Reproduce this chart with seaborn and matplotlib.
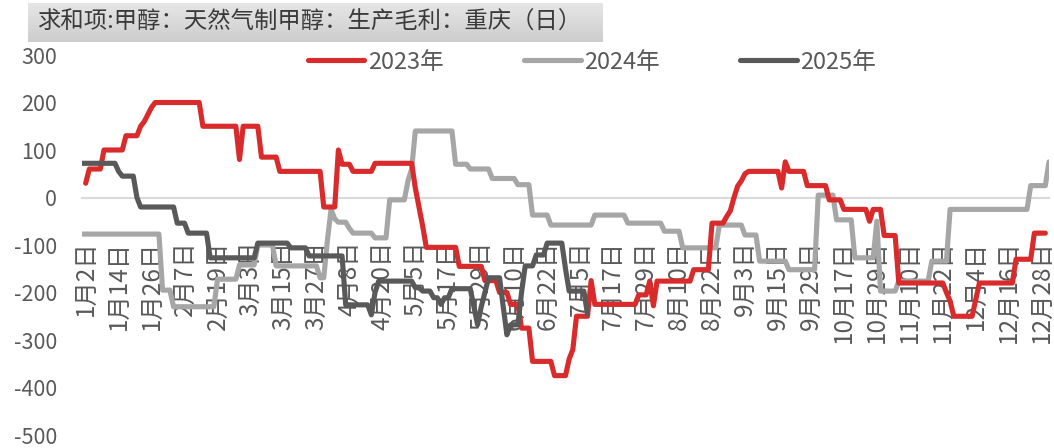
import numpy as np
import pandas as pd
import matplotlib
matplotlib.use("Agg")
import matplotlib.pyplot as plt
import seaborn as sns

# ---- data -------------------------------------------------------------
# category axis: one point per trading day, a date label every 9 points
n_points = 265
tick_step = 9
date_labels = ["1月2日", "1月14日", "1月26日", "2月7日", "2月19日", "3月3日",
               "3月15日", "3月27日", "4月8日", "4月20日", "5月5日", "5月17日",
               "5月29日", "6月10日", "6月22日", "7月5日", "7月17日", "7月29日",
               "8月10日", "8月22日", "9月3日", "9月15日", "9月29日", "10月17日",
               "10月29日", "11月10日", "11月22日", "12月4日", "12月16日", "12月28日"]

nan = np.nan
# daily gross margin (元/吨), stored as level + number of days at that level
vals_2023 = [nan, 30, 60, 100, 130, 150, 160, 175, 190, 200, 150, 80, 150, 85, 55,
             -20, 100, 70, 55, 72, 20, -20, -60, -105, -145, -175, -200, -225,
             -275, -345, -375, -340, -320, -250, -175, -225, -205, -176, -228,
             -176, -152, -54, -40, -28, 0, 24, 35, 50, 55, 20, 75, 55, 25, -5,
             -25, -50, -25, -80, -180, -200, -218, -250, -215, -180, -130, -75, nan]
runs_2023 = [1, 1, 4, 6, 4, 1, 1, 1, 1, 13, 10, 1, 5, 5, 12,
             4, 1, 3, 6, 11, 1, 1, 1, 9, 7, 4, 3, 3,
             3, 6, 4, 1, 1, 4, 1, 12, 3, 1, 1,
             10, 5, 4, 1, 1, 1, 1, 1, 1, 9, 1, 1, 5, 6, 4,
             7, 1, 3, 4, 13, 1, 1, 6, 1, 10, 5, 4, 1]

vals_2024 = [-77, -195, -230, -172, -142, -100, -144, -169, -90, -25, -45, -52,
             -65, -75, -85, -5, 35, 60, 140, 70, 60, 40, 27, -37, -58, -37, -54,
             -71, -106, -58, -79, -134, -152, 5, -47, -127, -50, -197, -176,
             -134, -25, 25, 75]
runs_2024 = [22, 3, 12, 6, 5, 5, 12, 2, 1, 1, 1, 3,
             1, 6, 4, 5, 1, 1, 11, 4, 6, 7, 4, 5, 12, 9, 10,
             5, 10, 7, 4, 8, 8, 5, 5, 6, 1, 5, 9,
             5, 22, 5, 1]

vals_2025 = [72, 55, 45, 0, -20, -54, -75, -127, -96, -106, -123, -226, -247,
             -200, -176, -190, -197, -211, -225, -211, -192, -230, -268, -230,
             -200, -169, -230, -289, -268, -200, -144, -121, -96, -150, -197,
             -245, nan]
runs_2025 = [10, 1, 4, 1, 10, 3, 6, 13, 9, 5, 10, 7, 1,
             1, 10, 2, 3, 2, 1, 2, 6, 1, 1, 1,
             1, 4, 1, 1, 3, 1, 3, 3, 5, 1, 5,
             1, 126]

series = {"2023年": (vals_2023, runs_2023),
          "2024年": (vals_2024, runs_2024),
          "2025年": (vals_2025, runs_2025)}
colors = {"2023年": "#d92b2b", "2024年": "#a6a6a6", "2025年": "#595959"}
title = "求和项:甲醇：天然气制甲醇：生产毛利：重庆（日）"

# ---- frame -------------------------------------------------------------
frames = []
for year, (vals, runs) in series.items():
    y = np.repeat(np.asarray(vals, dtype=float), runs)
    frames.append(pd.DataFrame({"pos": np.arange(n_points), "value": y, "year": year}))
df = pd.concat(frames, ignore_index=True).dropna()

# ---- style -------------------------------------------------------------
sns.set_theme(style="white")
plt.rcParams["font.family"] = ["Noto Sans CJK SC", "DejaVu Sans"]
plt.rcParams["axes.unicode_minus"] = False
text_gray = "#595959"

W, H = 1054, 448
fig = plt.figure(figsize=(W / 100, H / 100), dpi=100)
ax = fig.add_axes([82 / W, 13 / H, (1049 - 82) / W, (435 - 55) / H])
ax.set_axisbelow(True)

draw_order = [("2024年", 2), ("2023年", 3), ("2025年", 4)]
for year, z in draw_order:
    sns.lineplot(data=df[df["year"] == year], x="pos", y="value", color=colors[year],
                 linewidth=3.7, label=year, ax=ax, zorder=z, sort=True,
                 estimator=None, solid_joinstyle="round", solid_capstyle="round")

ax.set_xlim(0, n_points - 1)
ax.set_ylim(-500, 300)
ax.set_xlabel("")
ax.set_ylabel("")
ax.grid(False)

ax.set_yticks(np.arange(-500, 301, 100))
ax.tick_params(axis="y", length=0, pad=18, labelsize=15.5, labelcolor=text_gray)

ax.set_xticks(np.arange(1, n_points, tick_step)[:len(date_labels)])
ax.set_xticklabels(date_labels)
ax.tick_params(axis="x", length=0, pad=31, labelsize=17.5, labelcolor=text_gray,
               labelrotation=90)
for lab in ax.get_xticklabels():
    lab.set_verticalalignment("top")
    lab.set_horizontalalignment("center")

for side in ("left", "right", "top"):
    ax.spines[side].set_visible(False)
ax.spines["bottom"].set_position(("data", 0))
ax.spines["bottom"].set_color("#d9d9d9")
ax.spines["bottom"].set_linewidth(1.5)
ax.spines["bottom"].set_zorder(1)

# legend across the top, in year order
handles, labels = ax.get_legend_handles_labels()
order = [labels.index(k) for k in series]
if ax.get_legend() is not None:
    ax.get_legend().remove()
fig.legend([handles[i] for i in order], [labels[i] for i in order],
           loc="center", bbox_to_anchor=(592 / W, 1 - 62 / H), ncol=3, frameon=False,
           handlelength=2.4, handletextpad=0.15, columnspacing=3.4,
           fontsize=17, labelcolor=text_gray)

# shaded title banner
tax = fig.add_axes([28 / W, (H - 42) / H, (603 - 28) / W, 39 / H])
grad = np.linspace(0, 1, 64).reshape(-1, 1)
tax.imshow(grad, aspect="auto", cmap=matplotlib.colors.LinearSegmentedColormap.from_list(
    "banner", ["#e6e6e6", "#cdcdcd"]), extent=(0, 1, 0, 1), origin="upper")
tax.set_axis_off()
tax.text(0.016, 0.5, title, fontsize=16.8, color="#3a3a3a", va="center", ha="left",
         transform=tax.transAxes)

fig.savefig("out.png", dpi=100)
